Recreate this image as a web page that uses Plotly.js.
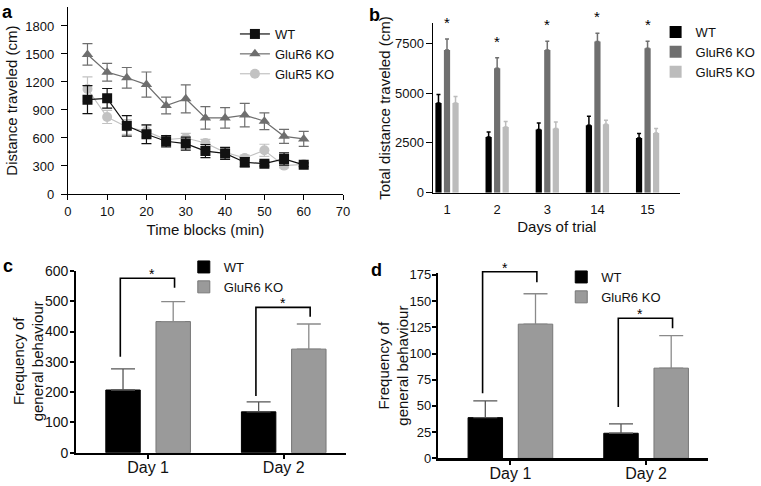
<!DOCTYPE html>
<html>
<head>
<meta charset="utf-8">
<script src="https://cdn.plot.ly/plotly-3.0.1.min.js"></script>
<style>html,body{margin:0;padding:0;background:#fff;}#chart{width:761px;height:486px;}</style>
</head>
<body>
<div id="chart"></div>
<script>
// ---------- Panel a data ----------
var timeBlocks = [5, 10, 15, 20, 25, 30, 35, 40, 45, 50, 55, 60];
var aWT      = [1010, 1025, 730, 640, 565, 540, 460, 435, 340, 325, 375, 312];
var aWTerr   = [150, 105, 110, 100, 60, 70, 70, 65, 50, 25, 65, 20];
var aGluR6   = [1495, 1305, 1245, 1172, 948, 1020, 815, 815, 845, 780, 618, 590];
var aGluR6err= [115, 95, 110, 135, 90, 150, 120, 110, 125, 90, 75, 80];
var aGluR5   = [1125, 825, 718, 671, 582, 600, 546, 446, 386, 468, 304, 318];
var aGluR5err= [130, 70, 80, 60, 40, 50, 40, 35, 30, 65, 25, 20];

// ---------- Panel b data ----------
var bDays     = ['1', '2', '3', '14', '15'];
var bWT       = [4500, 2800, 3170, 3385, 2750];
var bWTerr    = [430, 250, 330, 450, 220];
var bGluR6    = [7170, 6250, 7170, 7585, 7250];
var bGluR6err = [550, 520, 430, 420, 350];
var bGluR5    = [4500, 3300, 3220, 3435, 3000];
var bGluR5err = [330, 280, 330, 200, 220];

// ---------- Panel c data ----------
var cdDays    = ['Day 1', 'Day 2'];
var cWT       = [207, 135];
var cWTerr    = [70, 33];
var cGluR6    = [433, 342];
var cGluR6err = [66, 83];
var cSigTop   = [576, 480];
var cSigLeft  = [317, 187];
var cSigRight = [545, 449];

// ---------- Panel d data ----------
var dWT       = [38.8, 23.9];
var dWTerr    = [16, 9];
var dGluR6    = [128, 86];
var dGluR6err = [29, 31];
var dSigTop   = [178, 133.6];
var dSigLeft  = [62, 49];
var dSigRight = [168, 124];

var cdYTitle = 'Frequency of<br>general behaviour';

var FONT = 'Liberation Sans, Arial, Helvetica, sans-serif';
var W = 761, H = 486;
function px(x){return x / W;}
function py(y){return (H - y) / H;}

// domains (pixels)
var dom = {
  a: {x:[69, 349],  y:[7.3, 194]},
  b: {x:[441, 692], y:[23.4, 192.7]},
  c: {x:[77.7, 351.7], y:[271, 452.7]},
  d: {x:[445.7, 720], y:[272.8, 458.3]}
};
function xd(k){return [px(dom[k].x[0]), px(dom[k].x[1])];}
function yd(k){return [py(dom[k].y[1]), py(dom[k].y[0])];}

var traces = [];
// a
function lineTrace(y, e, name, color, sym, rank){
  return {x: timeBlocks, y: y, name: name, type: 'scatter', mode: 'lines+markers',
    xaxis: 'x', yaxis: 'y', legend: 'legend', legendrank: rank,
    line: {color: color, width: 1.2},
    marker: {symbol: sym, size: 10, color: color},
    error_y: {type: 'data', array: e, visible: true, color: color, thickness: 1.2, width: 5}};
}
traces.push(lineTrace(aGluR5, aGluR5err, 'GluR5 KO', '#c2c2c2', 'circle', 3));
traces.push(lineTrace(aGluR6, aGluR6err, 'GluR6 KO', '#6e6e6e', 'triangle-up', 2));
traces.push(lineTrace(aWT, aWTerr, 'WT', '#111111', 'square', 1));

// b
var bW = 0.124, bStep = 0.17;
function barB(y, e, name, color, k){
  return {x: bDays, y: y, name: name, type: 'bar', xaxis: 'x2', yaxis: 'y2', legend: 'legend2',
    legendrank: k + 1, width: bW, offset: (k - 1) * bStep - bW / 2,
    marker: {color: color, line: {width: 0}},
    error_y: {type: 'data', array: e, arrayminus: y.map(function(){return 0;}), visible: true,
      color: color, thickness: 1.5, width: 2}};
}
traces.push(barB(bWT, bWTerr, 'WT', '#000000', 0));
traces.push(barB(bGluR6, bGluR6err, 'GluR6 KO', '#6f6f6f', 1));
traces.push(barB(bGluR5, bGluR5err, 'GluR5 KO', '#bcbcbc', 2));

// c & d
var cdW = 0.254, cdOff = 0.185;
function barCD(y, e, name, color, lcolor, ecolor, sign, xa, ya, lg){
  return {x: cdDays, y: y, name: name, type: 'bar', xaxis: xa, yaxis: ya, legend: lg,
    width: cdW, offset: sign * cdOff - cdW / 2,
    marker: {color: color, line: {color: lcolor, width: 1}},
    error_y: {type: 'data', array: e, arrayminus: y.map(function(){return 0;}), visible: true,
      color: ecolor, thickness: 1.3, width: 12}};
}
traces.push(barCD(cWT, cWTerr, 'WT', '#000000', '#000000', '#555555', -1, 'x3', 'y3', 'legend3'));
traces.push(barCD(cGluR6, cGluR6err, 'GluR6 KO', '#9a9a9a', '#777777', '#8a8a8a', 1, 'x3', 'y3', 'legend3'));
traces.push(barCD(dWT, dWTerr, 'WT', '#000000', '#000000', '#555555', -1, 'x4', 'y4', 'legend4'));
traces.push(barCD(dGluR6, dGluR6err, 'GluR6 KO', '#9a9a9a', '#777777', '#8a8a8a', 1, 'x4', 'y4', 'legend4'));

var tickFont = {family: FONT, size: 13, color: '#111'};
var titleFont = {family: FONT, size: 15, color: '#111'};

var xrC = [-0.529, 1.457], yrC = [0, 600];
var xrD = [-0.533, 1.454], yrD = [0, 177];

var shapes = [], annotations = [];
function sigBrackets(k, xr, yr, top, left, right){
  function X(v){var d = dom[k].x; return px(d[0] + (v - xr[0]) / (xr[1] - xr[0]) * (d[1] - d[0]));}
  function Y(v){var d = dom[k].y; return py(d[1] - (v - yr[0]) / (yr[1] - yr[0]) * (d[1] - d[0]));}
  for (var i = 0; i < top.length; i++){
    var xl = X(i - cdOff - 0.02), xrr = X(i + cdOff + 0.01);
    var path = 'M' + xl + ',' + Y(left[i]) + ' L' + xl + ',' + Y(top[i]) + ' L' + xrr + ',' + Y(top[i]) + ' L' + xrr + ',' + Y(right[i]);
    shapes.push({type: 'path', xref: 'paper', yref: 'paper', path: path, line: {color: '#000', width: 1.6}});
    annotations.push({xref: 'paper', yref: 'paper', x: (xl + xrr) / 2, y: Y(top[i]), text: '*',
      showarrow: false, yanchor: 'bottom', yshift: -6, font: {family: FONT, size: 14, color: '#000'}});
  }
}
sigBrackets('c', xrC, yrC, cSigTop, cSigLeft, cSigRight);
sigBrackets('d', xrD, yrD, dSigTop, dSigLeft, dSigRight);

// asterisks panel b
for (var i = 0; i < bDays.length; i++){
  annotations.push({xref: 'x2', yref: 'y2', x: i, y: bGluR6[i] + bGluR6err[i], text: '*', showarrow: false,
    yanchor: 'bottom', yshift: 6, font: {family: FONT, size: 15, color: '#000'}});
}
// y titles for panels c and d (two-line, placed like the reference)
[[29, 'c'], [400, 'd']].forEach(function(t){
  var d = dom[t[1]].y;
  annotations.push({xref: 'paper', yref: 'paper', x: px(t[0]), y: py((d[0] + d[1]) / 2), text: cdYTitle,
    textangle: -90, showarrow: false, xanchor: 'center', yanchor: 'middle',
    font: {family: FONT, size: 15, color: '#111'}});
});
// panel letters
[['a', 8, 12], ['b', 381, 15], ['c', 8, 266], ['d', 383, 270]].forEach(function(l){
  annotations.push({xref: 'paper', yref: 'paper', x: px(l[1]), y: py(l[2]), text: '<b>' + l[0] + '</b>',
    showarrow: false, xanchor: 'center', yanchor: 'middle', font: {family: FONT, size: 18, color: '#000'}});
});

function axisBase(extra){
  var o = {showgrid: false, zeroline: false, showline: true, linecolor: '#000', linewidth: 1,
    ticks: 'outside', ticklen: 5, tickcolor: '#000', tickfont: tickFont, fixedrange: true};
  for (var k in extra) o[k] = extra[k];
  return o;
}
function legendAt(x, y){
  return {x: px(x), y: py(y), xanchor: 'left', yanchor: 'top', bgcolor: 'rgba(0,0,0,0)',
    font: {family: FONT, size: 13, color: '#111'}, itemwidth: 30, traceorder: 'normal', tracegroupgap: 0};
}

var layout = {
  width: W, height: H, margin: {l: 0, r: 0, t: 0, b: 0},
  paper_bgcolor: '#fff', plot_bgcolor: '#fff', font: {family: FONT, color: '#111'},
  barmode: 'group',
  xaxis: axisBase({domain: xd('a'), anchor: 'y', range: [0, 70], dtick: 10,
    title: {text: 'Time blocks (min)', font: titleFont, standoff: 6}}),
  yaxis: axisBase({domain: yd('a'), anchor: 'x', range: [0, 2000], tickvals: [0, 300, 600, 900, 1200, 1500, 1800],
    ticklen: 6, ticklabelstandoff: 4,
    title: {text: 'Distance traveled (cm)', font: titleFont, standoff: 4}}),
  xaxis2: axisBase({domain: xd('b'), anchor: 'y2', type: 'category', range: [-0.27, 4.65], ticks: '',
    ticklabelstandoff: 5,
    title: {text: 'Days of trial', font: titleFont, standoff: 5}}),
  yaxis2: axisBase({domain: yd('b'), anchor: 'x2', range: [0, 8500], tickvals: [0, 2500, 5000, 7500], ticklen: 6,
    title: {text: 'Total distance traveled (cm)', font: titleFont, standoff: 0}}),
  xaxis3: axisBase({domain: xd('c'), anchor: 'y3', type: 'category', range: xrC, linewidth: 2.2, ticklen: 4, tickwidth: 2,
    ticklabelstandoff: -5, tickfont: {family: FONT, size: 16, color: '#111'}}),
  yaxis3: axisBase({domain: yd('c'), anchor: 'x3', range: yrC, dtick: 100, linewidth: 2.2, tickwidth: 2, ticklen: 4,
    ticklabelstandoff: -1, tickfont: {family: FONT, size: 14, color: '#111'}}),
  xaxis4: axisBase({domain: xd('d'), anchor: 'y4', type: 'category', range: xrD, linewidth: 2.2, ticklen: 4, tickwidth: 2,
    ticklabelstandoff: -5, tickfont: {family: FONT, size: 16, color: '#111'}}),
  yaxis4: axisBase({domain: yd('d'), anchor: 'x4', range: yrD, tickvals: [0, 25, 50, 75, 100, 125, 150, 175], linewidth: 2.2, tickwidth: 2, ticklen: 4,
    ticklabelstandoff: -2, tickfont: {family: FONT, size: 13, color: '#111'}}),
  legend: legendAt(239, 19),
  legend2: legendAt(667, 17),
  legend3: legendAt(187, 252),
  legend4: legendAt(571, 262),
  shapes: shapes, annotations: annotations, showlegend: true
};

Plotly.newPlot('chart', traces, layout, {displayModeBar: false, staticPlot: true});
</script>
</body>
</html>
